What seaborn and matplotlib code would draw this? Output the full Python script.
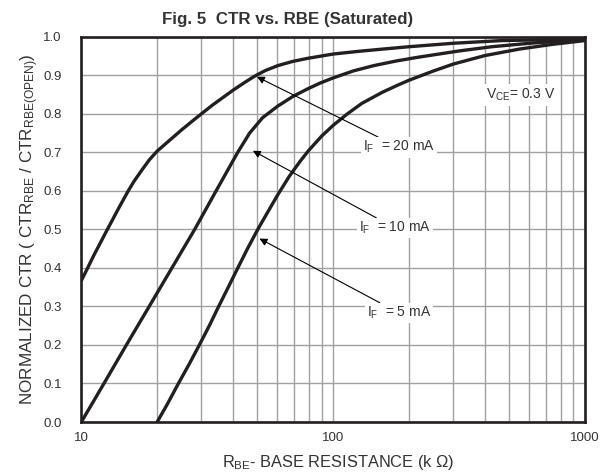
import pandas as pd
import seaborn as sns
import matplotlib.pyplot as plt
from matplotlib.ticker import LogLocator, FixedLocator, FuncFormatter

# Curve data (R_BE in kOhm, normalized CTR)
rbe_20ma = [10, 10.6, 11.2, 12.6, 14.1, 15.3, 16.2, 17.4, 18.6, 20, 22.4, 25.1, 28.2, 30, 33.1,
            36.3, 40, 44.7, 48.6, 53.7, 60.3, 69.2, 79.4, 100, 126, 158, 200, 300, 468, 1000]
ctr_20ma = [0.367, 0.40, 0.432, 0.496, 0.556, 0.598, 0.625, 0.654, 0.68, 0.703, 0.731, 0.759,
            0.786, 0.80, 0.822, 0.841, 0.861, 0.882, 0.897, 0.912, 0.925, 0.936, 0.944, 0.955,
            0.962, 0.968, 0.974, 0.983, 0.99, 0.994]

rbe_10ma = [10, 12.3, 15.1, 18.6, 22.9, 28.2, 34.3, 41.8, 46.6, 52.5, 60.3, 69.2, 79.4, 89, 100,
            120, 145, 178, 214, 263, 316, 427, 603, 1000]
ctr_10ma = [0.0, 0.1, 0.2, 0.3, 0.4, 0.5, 0.6, 0.7, 0.75, 0.79, 0.82, 0.845, 0.865, 0.88, 0.893,
            0.911, 0.925, 0.937, 0.946, 0.955, 0.963, 0.974, 0.983, 0.993]

rbe_5ma = [20, 21.9, 24.2, 26.9, 29.7, 32.4, 34.8, 38, 41.1, 45.7, 50.2, 55, 60.3, 67, 74, 80, 90,
           100, 114, 130, 157, 180, 200, 250, 300, 400, 550, 740, 1000]
ctr_5ma = [0.0, 0.045, 0.098, 0.152, 0.205, 0.253, 0.295, 0.345, 0.39, 0.45, 0.50, 0.545, 0.59,
           0.638, 0.677, 0.705, 0.742, 0.77, 0.80, 0.827, 0.856, 0.874, 0.887, 0.911, 0.929,
           0.951, 0.968, 0.98, 0.99]

x_ticks = [10, 100, 1000]
y_ticks = [0.0, 0.1, 0.2, 0.3, 0.4, 0.5, 0.6, 0.7, 0.8, 0.9, 1.0]

# labels: text, text position, arrow tip
if_labels = [r"I$_\mathrm{F}$  = 20 mA", r"I$_\mathrm{F}$  = 10 mA", r"I$_\mathrm{F}$  = 5 mA"]
label_pos = [(131, 0.713), (127, 0.503), (136, 0.283)]
arrow_tips = [(49.8, 0.896), (48.0, 0.704), (51.0, 0.476)]

df = pd.concat([
    pd.DataFrame({'rbe': rbe_20ma, 'ctr': ctr_20ma, 'if_ma': '20'}),
    pd.DataFrame({'rbe': rbe_10ma, 'ctr': ctr_10ma, 'if_ma': '10'}),
    pd.DataFrame({'rbe': rbe_5ma, 'ctr': ctr_5ma, 'if_ma': '5'}),
])

sns.set_style('white')
plt.rcParams['font.family'] = ['Liberation Sans', 'DejaVu Sans']
plt.rcParams['mathtext.fontset'] = 'custom'
plt.rcParams['mathtext.rm'] = 'Liberation Sans'
plt.rcParams['mathtext.it'] = 'Liberation Sans:italic'
plt.rcParams['mathtext.bf'] = 'Liberation Sans:bold'

ink = '#231f20'
txt_col = '#333333'
fig = plt.figure(figsize=(6.01, 4.73), dpi=100)
ax = fig.add_axes([0.1353, 0.1078, 0.8381, 0.8146])

sns.lineplot(data=df, x='rbe', y='ctr', hue='if_ma', palette=[ink] * 3, legend=False,
             estimator=None, sort=False, lw=2.4, ax=ax, zorder=3)
for ln in ax.lines:
    ln.set_solid_joinstyle('round')
    ln.set_solid_capstyle('round')

ax.set_xscale('log')
ax.set_xlim(10, 1000)
ax.set_ylim(0, 1.0)
ax.xaxis.set_major_locator(FixedLocator(x_ticks))
ax.xaxis.set_minor_locator(LogLocator(base=10, subs=range(2, 10)))
ax.xaxis.set_major_formatter(FuncFormatter(lambda v, p: f"{v:g}"))
ax.xaxis.set_minor_formatter(FuncFormatter(lambda v, p: ""))
ax.set_yticks(y_ticks)
ax.yaxis.set_major_formatter(FuncFormatter(lambda v, p: f"{v:.1f}"))

ax.grid(True, which='both', color='#a0a0a0', lw=1.0)
ax.set_axisbelow(True)
ax.tick_params(axis='both', which='both', length=0, labelsize=9.5, colors=txt_col)
ax.tick_params(axis='y', pad=14)
ax.tick_params(axis='x', pad=7)
for sp in ax.spines.values():
    sp.set_color(ink)
    sp.set_linewidth(1.9)

ax.set_xlabel(r"R$_\mathrm{BE}$- BASE RESISTANCE (k $\Omega$)", fontsize=11.8, color=txt_col, labelpad=7)
ax.xaxis.label.set_x(0.51)
ax.set_ylabel(r"NORMALIZED CTR ( CTR$_\mathrm{RBE}$ / CTR$_\mathrm{RBE(OPEN)}$)",
              fontsize=12.3, color=txt_col, labelpad=2)

fig.text(0.479, 0.959, "Fig. 5  CTR vs. RBE (Saturated)", ha='center', va='center',
         fontsize=12.2, fontweight='bold', color=txt_col)

for txt, pos, tip in zip(if_labels, label_pos, arrow_tips):
    ax.annotate(txt, xy=tip, xytext=pos, ha='left', va='center', fontsize=10, color=txt_col,
                bbox=dict(boxstyle='square,pad=0.15', fc='white', ec='none'),
                arrowprops=dict(arrowstyle='-|>', color='k', lw=0.8, mutation_scale=11,
                                shrinkA=0, shrinkB=0), zorder=4)

ax.text(403, 0.849, r"V$_\mathrm{CE}$= 0.3 V", ha='left', va='center', fontsize=10, color=txt_col,
        bbox=dict(boxstyle='square,pad=0.2', fc='white', ec='none'), zorder=4)

plt.savefig('out.png', dpi=100)
